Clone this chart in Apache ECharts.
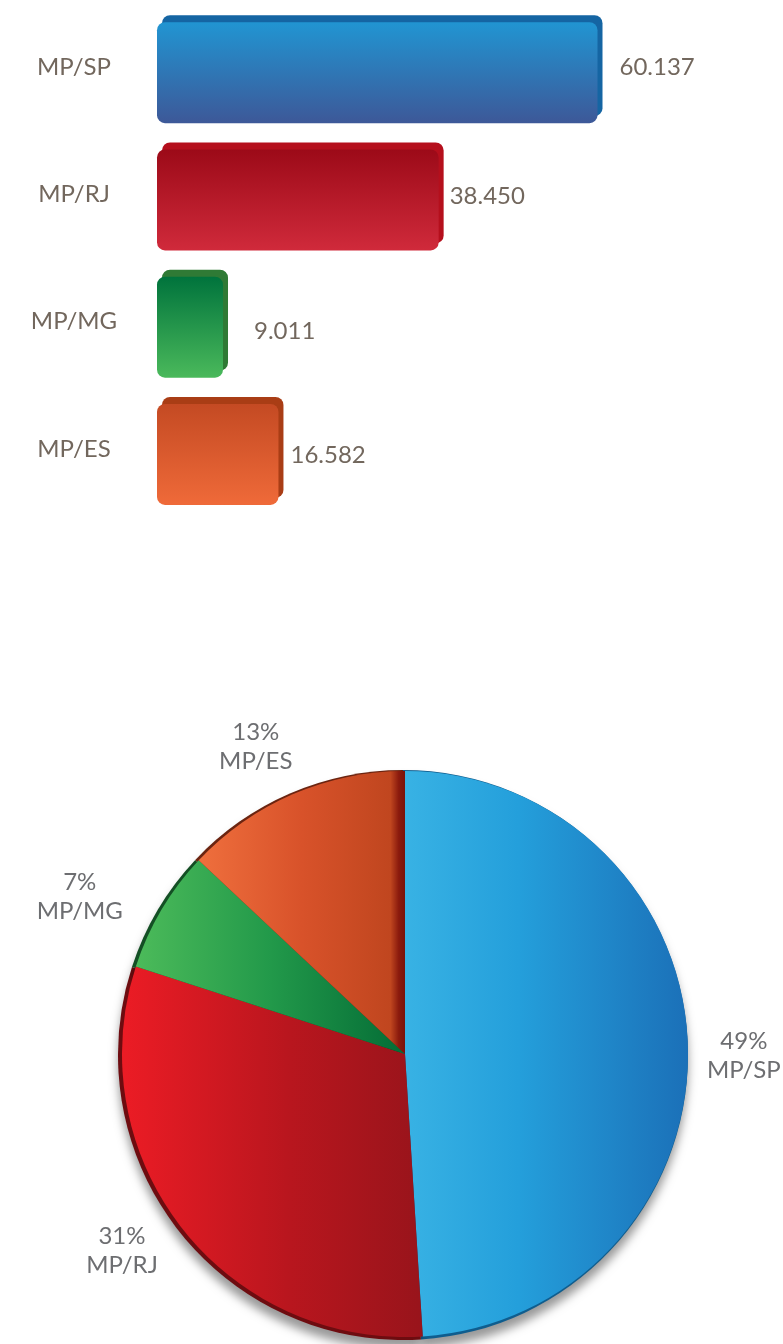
<!DOCTYPE html>
<html>
<head>
<meta charset="utf-8">
<script src="https://cdn.jsdelivr.net/npm/echarts@6/dist/echarts.min.js"></script>
<style>
  html, body { margin: 0; padding: 0; background: #ffffff; }
  #chart { width: 783px; height: 1344px; }
</style>
</head>
<body>
<div id="chart"></div>
<script>
// Totals per unit and their share of the whole
const categories = ['MP/SP', 'MP/RJ', 'MP/MG', 'MP/ES'];
const totals = [60137, 38450, 9011, 16582];
const shares = [49, 31, 7, 13];

// Colour sets per unit (bar body gradient, bar rim, pie gradient, pie rim)
const palette = [
  { barTop: '#2195d2', barBottom: '#3d5898', barRim: '#1565a3',
    pie: [[0, '#38b2e4'], [0.4, '#249fdb'], [1, '#1b70b8']], pieRim: '#0f5d8e' },
  { barTop: '#9c0a18', barBottom: '#d02a3b', barRim: '#b50f1c',
    pie: [[0, '#ec1c25'], [0.55, '#b9161e'], [1, '#98141b']], pieRim: '#6e0c10' },
  { barTop: '#00733c', barBottom: '#4ab95b', barRim: '#2f7a35',
    pie: [[0, '#4cbb5a'], [0.5, '#22994a'], [1, '#046c36']], pieRim: '#134f24' },
  { barTop: '#c44a23', barBottom: '#ef6a39', barRim: '#a93d15',
    pie: [[0, '#ef6f3d'], [0.5, '#d8522a'], [0.93, '#c0461f'], [0.97, '#8a1a0d'], [1, '#7a120a']], pieRim: '#6b2410' }
];

// Small nudges for the value captions beside the bars and the pie captions
const barLabelNudge = [[7, -5], [-4, -4], [16, 4], [-3, 1]];
const pieLabelNudge = [[-4, 13], [-12, -13], [-30, 17], [-13, 8]];

const textColor = '#72675d';
const pieTextColor = '#6d6e71';
const fontFamily = 'Lato, "Open Sans", "Noto Sans", sans-serif';

function formatThousands(v) {
  return String(v).replace(/\B(?=(\d{3})+(?!\d))/g, '.');
}

const barData = totals.map((v, i) => ({
  value: v,
  itemStyle: {
    color: {
      type: 'linear', x: 0, y: 0, x2: 0, y2: 1,
      colorStops: [
        { offset: 0, color: palette[i].barTop },
        { offset: 1, color: palette[i].barBottom }
      ]
    },
    shadowColor: palette[i].barRim,
    shadowOffsetX: 5,
    shadowOffsetY: -7,
    shadowBlur: 0
  },
  label: { offset: barLabelNudge[i] }
}));

const pieData = shares.map((v, i) => ({
  name: categories[i],
  value: v,
  itemStyle: {
    color: {
      type: 'linear', x: 0, y: 0, x2: 1, y2: 0,
      colorStops: palette[i].pie.map(s => ({ offset: s[0], color: s[1] }))
    }
  }
}));

const rimData = shares.map((v, i) => ({
  name: categories[i],
  value: v,
  itemStyle: { color: palette[i].pieRim }
}));

const chart = echarts.init(document.getElementById('chart'), null, { renderer: 'canvas' });

chart.setOption({
  backgroundColor: '#ffffff',
  animation: false,
  grid: { left: 157, right: 40, top: 9, height: 509, containLabel: false },
  xAxis: {
    type: 'value', min: 0, max: 80000, show: false
  },
  yAxis: {
    type: 'category',
    data: categories,
    inverse: true,
    axisLine: { show: false },
    axisTick: { show: false },
    splitLine: { show: false },
    axisLabel: {
      margin: 83,
      align: 'center',
      verticalAlign: 'bottom',
      lineHeight: 11,
      color: textColor,
      fontFamily: fontFamily,
      fontSize: 24
    }
  },
  series: [
    {
      type: 'bar',
      data: barData,
      barWidth: 101,
      itemStyle: { borderRadius: 8 },
      label: {
        show: true,
        position: 'right',
        distance: 15,
        color: textColor,
        fontFamily: fontFamily,
        fontSize: 24,
        formatter: p => formatThousands(p.value)
      }
    },
    {
      // darker rim and drop shadow behind the disc
      type: 'pie',
      silent: true,
      center: [403, 1055],
      radius: 285,
      startAngle: 90,
      data: rimData,
      label: { show: false },
      labelLine: { show: false },
      itemStyle: {
        shadowColor: 'rgba(0,0,0,0.4)',
        shadowBlur: 10,
        shadowOffsetY: 9
      }
    },
    {
      type: 'pie',
      center: [405, 1054],
      radius: 283,
      startAngle: 90,
      data: pieData,
      label: { show: false },
      labelLine: { show: false },
      emphasis: { disabled: true }
    },
    {
      // invisible ring that carries the captions around the disc
      type: 'pie',
      silent: true,
      center: [405, 1054],
      radius: [325, 355],
      startAngle: 90,
      data: shares.map((v, i) => ({ name: categories[i], value: v })),
      itemStyle: { color: 'rgba(0,0,0,0)' },
      labelLine: { show: false },
      label: {
        show: true,
        position: 'inside',
        rotate: 0,
        color: pieTextColor,
        fontFamily: fontFamily,
        fontSize: 24,
        lineHeight: 29,
        align: 'center',
        formatter: p => p.value + '%\n' + p.name
      },
      labelLayout: p => ({ dx: pieLabelNudge[p.dataIndex][0], dy: pieLabelNudge[p.dataIndex][1] })
    }
  ]
});
</script>
</body>
</html>
